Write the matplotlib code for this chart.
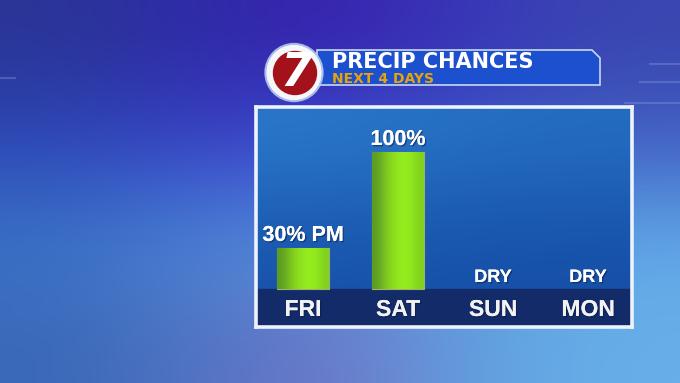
import matplotlib.pyplot as plt
import numpy as np
import matplotlib.patheffects as pe
from matplotlib.patches import Circle, Polygon
from matplotlib.colors import to_rgb

days = ['FRI', 'SAT', 'SUN', 'MON']
chances = [30, 100, 0, 0]
labels = ['30% PM', '100%', 'DRY', 'DRY']

title = 'PRECIP CHANCES'
subtitle = 'NEXT 4 DAYS'

W, H = 680, 383
fig = plt.figure(figsize=(W / 100, H / 100), dpi=100)

# background (pixel coords)
bg = fig.add_axes([0, 0, 1, 1])
bg.set_xlim(0, W)
bg.set_ylim(H, 0)
bg.axis('off')
bg_cols = [
    ['#2a3596', '#2e2aa8', '#3a22b0', '#3838b8', '#3a46b0'],
    ['#2c48b8', '#3a40c8', '#3a4ad0', '#3a58c8', '#4262c4'],
    ['#3a74c8', '#4a88d8', '#5494dc', '#5aa0e0', '#60a8e8'],
    ['#3a68b8', '#5474c4', '#7078c8', '#60a0e0', '#68b0e8'],
]
bg_img = np.array([[to_rgb(c) for c in row] for row in bg_cols])
bg.imshow(bg_img, extent=(0, W, H, 0), interpolation='bicubic', aspect='auto', zorder=0)
# faint tech lines
for y, x0, x1 in [(64, 650, 680), (82, 640, 680), (103, 625, 680), (78, 0, 15)]:
    bg.plot([x0, x1], [y, y], color='#8aa0e0', alpha=0.35, lw=1.5, zorder=1)

# header banner
banner = Polygon([(317, 50), (592, 50), (600, 58), (600, 85), (317, 85)],
                 closed=True, facecolor='#1d50cf', edgecolor='#c8d8f0', lw=1.2, zorder=2)
bg.add_patch(banner)
bg.add_patch(Circle((294, 72.5), 29, color='#b8ccf2', alpha=0.8, zorder=3))
bg.add_patch(Circle((294, 72.5), 27, color='#f4f6fa', zorder=3))
bg.add_patch(Circle((295, 73), 21.5, color='#a3121a', zorder=4))
bg.text(296, 74, '7', ha='center', va='center', fontsize=33, fontweight='bold',
        fontstyle='italic', color='white', family='DejaVu Sans', zorder=5)
bg.text(332, 67.5, title, ha='left', va='baseline', fontsize=15, fontweight='bold',
        color='white', family='DejaVu Sans', zorder=5)
bg.text(332, 83, subtitle, ha='left', va='baseline', fontsize=10, fontweight='bold',
        color='#e8a20c', family='DejaVu Sans', zorder=5)

# chart panel
ax = fig.add_axes([256 / W, 1 - 326.5 / H, 375.5 / W, 219.5 / H])
xlo, xhi = -0.495, 3.458
ylo, yhi = -27.4, 132.8
ax.set_xlim(xlo, xhi)
ax.set_ylim(ylo, yhi)
ax.set_xticks([])
ax.set_yticks([])
for s in ax.spines.values():
    s.set_color('#eef2fb')
    s.set_linewidth(2.6)

panel_cols = [
    ['#2a76c8', '#2670c4', '#246cc0'],
    ['#1e60b6', '#1b5ab2', '#1a58b0'],
    ['#1852aa', '#1650a8', '#164ea6'],
]
panel_img = np.array([[to_rgb(c) for c in row] for row in panel_cols])
ax.imshow(panel_img, extent=(xlo, xhi, ylo, yhi), interpolation='bicubic', aspect='auto', zorder=0)
ax.axhspan(ylo, 0, color='#142b6a', zorder=1)

x = np.arange(len(days))
bars = ax.bar(x, chances, width=0.54, color='#8ee01e', edgecolor='#9cb070',
              lw=[0.8 if v > 0 else 0 for v in chances], zorder=2)
grad = np.array([[to_rgb(c) for c in ['#5c9a24', '#78c420', '#8ede1e', '#96ee1e', '#92ea1e', '#80d01c']]])
for b in bars:
    if b.get_height() <= 0:
        continue
    bx, by = b.get_x(), b.get_y()
    im = ax.imshow(grad, extent=(bx, bx + b.get_width(), by, by + b.get_height()),
                   interpolation='bicubic', aspect='auto', zorder=3)
    im.set_clip_path(b)

shadow = [pe.withSimplePatchShadow(offset=(1, -1), shadow_rgbFace='#0a1840', alpha=0.5), pe.Normal()]
for i, (v, lab) in enumerate(zip(chances, labels)):
    fs = 15.5 if v > 0 else 13
    ax.annotate(lab, (x[i], v), xytext=(0, 5), textcoords='offset points', ha='center',
                va='baseline', fontsize=fs, fontweight='bold', color='white',
                family='Liberation Sans', zorder=5, path_effects=shadow)
    ax.text(x[i], -19.7, days[i], ha='center', va='baseline', fontsize=16.5,
            fontweight='bold', color='#f2f2f2', family='Liberation Sans', zorder=5,
            path_effects=shadow)

plt.savefig('out.png', dpi=100)
